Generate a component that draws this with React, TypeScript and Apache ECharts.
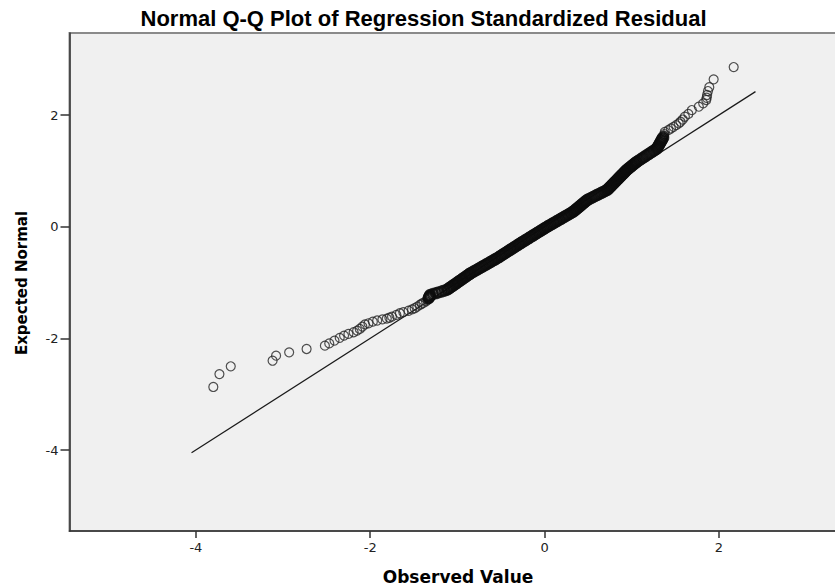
import React, { useEffect, useRef } from "react";
import * as echarts from "echarts";

const TITLE = "Normal Q-Q Plot of Regression Standardized Residual";
const X_NAME = "Observed Value";
const Y_NAME = "Expected Normal";
const TICKS = [-4, -2, 0, 2];
const AXIS_MIN = -5.45;
const AXIS_MAX = 3.47;
const REF_LINE = [-4.05, 2.42];

// [observed, expected]
const LOWER_TAIL = [
  [-3.8, -2.87], [-3.73, -2.64], [-3.6, -2.5], [-3.12, -2.4], [-3.08, -2.31],
  [-2.93, -2.25], [-2.73, -2.19], [-2.52, -2.13], [-2.47, -2.09], [-2.41, -2.04],
  [-2.35, -1.99], [-2.3, -1.95], [-2.25, -1.92], [-2.19, -1.89], [-2.15, -1.86],
  [-2.12, -1.83], [-2.09, -1.79], [-2.06, -1.75], [-2.02, -1.73], [-1.97, -1.7],
  [-1.92, -1.68], [-1.86, -1.66], [-1.81, -1.645], [-1.78, -1.63], [-1.75, -1.61],
  [-1.7, -1.58], [-1.66, -1.55], [-1.62, -1.53], [-1.56, -1.505], [-1.52, -1.48],
  [-1.49, -1.46], [-1.46, -1.43], [-1.43, -1.4], [-1.41, -1.38], [-1.39, -1.365],
  [-1.36, -1.335], [-1.345, -1.31], [-1.335, -1.295],
];

const BAND_LOW = [
  [-1.33, -1.28], [-1.325, -1.265], [-1.32, -1.25], [-1.315, -1.235], [-1.31, -1.22],
  [-1.28, -1.205], [-1.245, -1.19], [-1.215, -1.175], [-1.18, -1.16], [-1.15, -1.145], [-1.12, -1.13],
  [-1.106, -1.115], [-1.093, -1.1], [-1.079, -1.085], [-1.066, -1.07], [-1.05, -1.055],
  [-1.038, -1.04], [-1.025, -1.025], [-1.008, -1.01], [-0.996, -0.995], [-0.985, -0.98],
  [-0.969, -0.965], [-0.953, -0.95], [-0.942, -0.935], [-0.929, -0.92], [-0.912, -0.905],
  [-0.9, -0.89], [-0.888, -0.875], [-0.872, -0.86], [-0.859, -0.845], [-0.85, -0.835],
  [-0.834, -0.82], [-0.815, -0.805], [-0.8, -0.79], [-0.781, -0.775], [-0.766, -0.76],
  [-0.747, -0.745], [-0.732, -0.73], [-0.713, -0.715], [-0.698, -0.7], [-0.679, -0.685],
  [-0.664, -0.67], [-0.645, -0.655], [-0.631, -0.64], [-0.612, -0.625], [-0.597, -0.61],
  [-0.578, -0.595], [-0.563, -0.58], [-0.546, -0.566],
];

const BAND_MID = [
  [-0.531, -0.55], [-0.514, -0.535], [-0.5, -0.52], [-0.486, -0.505], [-0.469, -0.49],
  [-0.456, -0.475], [-0.44, -0.46], [-0.424, -0.445], [-0.411, -0.43], [-0.394, -0.415],
  [-0.381, -0.4], [-0.364, -0.385], [-0.351, -0.37], [-0.334, -0.355], [-0.321, -0.34],
  [-0.304, -0.325], [-0.291, -0.31], [-0.28, -0.3],
  [-0.264, -0.285], [-0.251, -0.27], [-0.233, -0.255], [-0.219, -0.24], [-0.202, -0.225],
  [-0.188, -0.21], [-0.171, -0.195], [-0.157, -0.18], [-0.14, -0.165], [-0.126, -0.15],
  [-0.109, -0.135], [-0.095, -0.12], [-0.078, -0.105], [-0.064, -0.09], [-0.047, -0.075],
  [-0.033, -0.06], [-0.015, -0.045], [-0.002, -0.03], [0.016, -0.015], [0.03, 0.0],
  [0.046, 0.015], [0.064, 0.03], [0.079, 0.045], [0.098, 0.06], [0.112, 0.075],
  [0.131, 0.09], [0.146, 0.105], [0.164, 0.12], [0.179, 0.135], [0.198, 0.15],
  [0.212, 0.165], [0.231, 0.18], [0.246, 0.195], [0.264, 0.21], [0.279, 0.225],
  [0.298, 0.24], [0.312, 0.255], [0.33, 0.27],
];

const BAND_HIGH = [
  [0.34, 0.285], [0.354, 0.3], [0.363, 0.315], [0.377, 0.33], [0.386, 0.345],
  [0.4, 0.36], [0.409, 0.375], [0.422, 0.39], [0.432, 0.405], [0.445, 0.42],
  [0.455, 0.435], [0.468, 0.45], [0.478, 0.465], [0.49, 0.48],
  [0.508, 0.495], [0.529, 0.51], [0.547, 0.525], [0.568, 0.54], [0.585, 0.555],
  [0.606, 0.57], [0.623, 0.585], [0.644, 0.6], [0.662, 0.615], [0.683, 0.63],
  [0.7, 0.645], [0.72, 0.66],
  [0.728, 0.675], [0.74, 0.69], [0.747, 0.705], [0.759, 0.72], [0.766, 0.735],
  [0.777, 0.75], [0.785, 0.765], [0.796, 0.78], [0.803, 0.795], [0.815, 0.81],
  [0.822, 0.825], [0.834, 0.84], [0.841, 0.855], [0.852, 0.87], [0.86, 0.885],
  [0.871, 0.9], [0.878, 0.915], [0.89, 0.93], [0.897, 0.945], [0.909, 0.96],
  [0.916, 0.975], [0.927, 0.99], [0.935, 1.005], [0.945, 1.02],
  [0.958, 1.035], [0.968, 1.05], [0.982, 1.065], [0.992, 1.08], [1.005, 1.095],
  [1.015, 1.11], [1.029, 1.125], [1.039, 1.14], [1.053, 1.155], [1.06, 1.165],
  [1.081, 1.185], [1.099, 1.205], [1.12, 1.225], [1.137, 1.245], [1.159, 1.265],
  [1.176, 1.285], [1.198, 1.305], [1.216, 1.325], [1.237, 1.345], [1.255, 1.365],
  [1.276, 1.385], [1.29, 1.4],
  [1.296, 1.42], [1.305, 1.44], [1.31, 1.46], [1.319, 1.48], [1.325, 1.5],
  [1.334, 1.52], [1.339, 1.54], [1.348, 1.56], [1.353, 1.58], [1.362, 1.6],
];

const UPPER_TAIL = [
  [1.37, 1.63], [1.375, 1.66], [1.38, 1.7], [1.42, 1.73], [1.45, 1.76],
  [1.48, 1.79], [1.51, 1.82], [1.54, 1.85], [1.56, 1.88], [1.585, 1.92],
  [1.61, 1.97], [1.65, 2.02], [1.69, 2.09], [1.77, 2.15], [1.82, 2.21],
  [1.855, 2.27], [1.86, 2.31], [1.865, 2.36], [1.875, 2.43], [1.89, 2.5],
  [1.94, 2.64], [2.17, 2.86],
];

export default function App() {
  const ref = useRef<HTMLDivElement>(null);

  useEffect(() => {
    if (!ref.current) return;
    const chart = echarts.init(ref.current, null, { renderer: "svg" });
    const tails = [...LOWER_TAIL, ...UPPER_TAIL];
    const band = [...BAND_LOW, ...BAND_MID, ...BAND_HIGH];
    const labelStyle = {
      fontFamily: "DejaVu Sans",
      fontSize: 13,
      color: "#222222",
    };
    chart.setOption({
      animation: false,
      backgroundColor: "#ffffff",
      grid: {
        left: 69.5,
        top: 33,
        right: 13,
        bottom: 57,
        show: true,
        backgroundColor: "#f0f0f0",
        borderColor: "#8a8a8a",
        borderWidth: 2,
      },
      xAxis: {
        type: "value",
        min: AXIS_MIN,
        max: AXIS_MAX,
        axisLine: { show: true, onZero: false, lineStyle: { color: "#333333", width: 1.5 } },
        axisTick: { show: true, length: 7, customValues: TICKS, lineStyle: { color: "#333333", width: 1.5 } },
        axisLabel: { customValues: TICKS, margin: 10, ...labelStyle },
        splitLine: { show: false },
      },
      yAxis: {
        type: "value",
        min: AXIS_MIN,
        max: AXIS_MAX,
        axisLine: { show: true, onZero: false, lineStyle: { color: "#333333", width: 1.5 } },
        axisTick: { show: true, length: 9, customValues: TICKS, lineStyle: { color: "#333333", width: 1.5 } },
        axisLabel: { customValues: TICKS, margin: 11, ...labelStyle },
        splitLine: { show: false },
      },
      series: [
        {
          type: "line",
          data: REF_LINE.map((v) => [v, v]),
          symbol: "none",
          silent: true,
          lineStyle: { color: "#1a1a1a", width: 1.2 },
          z: 2,
        },
        {
          type: "scatter",
          data: tails,
          symbol: "circle",
          symbolSize: 9,
          silent: true,
          itemStyle: { color: "transparent", borderColor: "#262626", borderWidth: 1.2 },
          z: 3,
        },
        {
          type: "scatter",
          data: band,
          symbol: "circle",
          symbolSize: 10,
          silent: true,
          itemStyle: { color: "transparent", borderColor: "#0d0d0d", borderWidth: 2.2 },
          z: 3,
        },
      ],
      graphic: [
        {
          type: "text",
          x: 423.5,
          y: 18,
          style: {
            text: TITLE,
            font: "bold 22px 'Liberation Sans', Arial, sans-serif",
            fill: "#000000",
            textAlign: "center",
            textVerticalAlign: "middle",
            verticalAlign: "middle",
          },
        },
        {
          type: "text",
          x: 458,
          y: 577,
          style: {
            text: X_NAME,
            font: "bold 17px 'DejaVu Sans', sans-serif",
            fill: "#000000",
            textAlign: "center",
            textVerticalAlign: "middle",
            verticalAlign: "middle",
          },
        },
        {
          type: "text",
          x: 22,
          y: 283,
          rotation: Math.PI / 2,
          style: {
            text: Y_NAME,
            font: "bold 15px 'DejaVu Sans', sans-serif",
            fill: "#000000",
            textAlign: "center",
            textVerticalAlign: "middle",
            verticalAlign: "middle",
          },
        },
      ],
    });
    return () => chart.dispose();
  }, []);

  return (
    <div
      style={{
        position: "fixed",
        left: 0,
        top: 0,
        width: 835,
        height: 588,
        overflow: "hidden",
        background: "#ffffff",
      }}
    >
      <div ref={ref} style={{ width: 860, height: 588 }} />
    </div>
  );
}
